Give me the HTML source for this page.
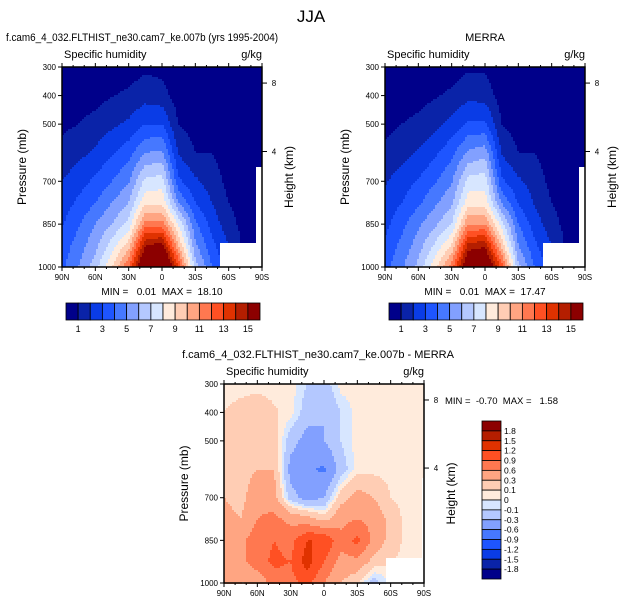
<!DOCTYPE html>
<html><head><meta charset="utf-8">
<style>
body{margin:0;background:#fff;}
svg{display:block;font-family:"Liberation Sans",Arial,sans-serif;}
text{white-space:pre;}
</style></head>
<body>
<svg id="fig" width="622" height="606" viewBox="0 0 622 606">
<text x="311" y="22" font-size="17" text-anchor="middle">JJA</text>
</svg>
<script>
// ---------- data ----------
const lats = [90,75,60,45,30,15,0,-15,-30,-45,-60,-75,-90];
const pLevels = [1000,925,850,775,700,600,500,400,300];
const modelQ = [
 [3.8,5.0,6.5,9.0,12.0,17.5,18.5,13.0,6.5,4.0,2.5,0.8,0.5],
 [3.4,4.5,5.7,7.5,9.5,15.0,15.5,10.0,5.2,3.3,2.0,0.7,0.4],
 [2.9,3.9,5.0,6.0,7.3,11.5,11.5,7.8,4.2,2.6,1.4,0.6,0.3],
 [2.5,3.2,4.0,5.0,6.0,8.8,8.8,5.0,3.0,2.0,1.0,0.5,0.2],
 [2.0,2.6,3.2,4.0,4.9,7.3,7.5,3.2,2.2,1.5,0.7,0.4,0.2],
 [1.3,1.7,2.2,2.9,3.6,5.0,5.2,1.9,1.0,1.0,0.5,0.2,0.1],
 [0.8,1.0,1.3,1.8,2.2,3.0,3.0,0.95,0.6,0.5,0.3,0.1,0.1],
 [0.4,0.55,0.7,0.95,1.2,1.6,1.4,0.5,0.3,0.2,0.1,0.05,0.05],
 [0.2,0.25,0.3,0.4,0.5,0.8,0.7,0.2,0.1,0.1,0.05,0.05,0.05]
];
const merraQ = [
 [3.6,4.8,6.3,8.6,11.5,17.0,17.5,12.6,6.3,3.9,2.5,0.8,0.5],
 [3.2,4.3,5.5,7.2,9.1,14.4,14.8,9.7,5.0,3.2,2.0,0.7,0.4],
 [2.7,3.7,4.8,5.8,7.0,11.0,11.0,7.5,4.0,2.5,1.4,0.6,0.3],
 [2.3,3.0,3.8,4.8,5.8,8.6,8.6,4.9,2.9,1.9,1.0,0.5,0.2],
 [1.9,2.5,3.1,3.9,4.9,7.4,7.6,3.2,2.2,1.5,0.7,0.4,0.2],
 [1.2,1.6,2.1,2.8,3.7,5.2,5.6,1.9,1.0,1.0,0.5,0.2,0.1],
 [0.75,1.0,1.25,1.7,2.3,3.2,3.2,1.0,0.6,0.5,0.3,0.1,0.1],
 [0.4,0.5,0.65,0.9,1.2,1.7,1.6,0.5,0.3,0.2,0.1,0.05,0.05],
 [0.2,0.25,0.3,0.4,0.5,0.85,0.85,0.2,0.1,0.1,0.05,0.05,0.05]
];
const diffQ = [
 [0.4,0.3,0.3,0.8,0.8,1.0,0.6,0.3,0.1,-0.2,0.05,0.05,0.05],
 [0.5,0.5,0.8,0.95,0.9,1.35,0.9,0.5,0.5,0.2,0.1,0.05,0.05],
 [0.6,0.5,0.8,0.9,0.8,1.2,1.2,0.7,1.0,0.5,0.2,0.05,0.05],
 [0.4,0.3,0.6,0.7,0.5,0.4,0.2,0.5,0.6,0.5,0.2,0.05,0.05],
 [0.3,0.2,0.5,0.4,-0.2,-0.4,-0.3,0.2,0.4,0.3,0.1,0.05,0.05],
 [0.3,0.2,0.3,0.3,-0.4,-0.55,-0.65,-0.2,0.05,0.05,0.05,0.05,0.05],
 [0.2,0.15,0.2,0.2,-0.2,-0.4,-0.3,-0.1,0.05,0.05,0.05,0.05,0.05],
 [0.1,0.15,0.2,0.12,0.05,-0.2,-0.3,-0.1,0.05,0.05,0.05,0.05,0.05],
 [0.05,0.05,0.05,0.05,0.05,-0.1,-0.2,0.05,0.05,0.05,0.05,0.05,0.05]
];
const qLevels = [1,2,3,4,5,6,7,8,9,10,11,12,13,14,15];
const qLabels = ["1","3","5","7","9","11","13","15"];
const dLevels = [-1.8,-1.5,-1.2,-0.9,-0.6,-0.3,-0.1,0,0.1,0.3,0.6,0.9,1.2,1.5,1.8];
const dLabels = ["1.8","1.5","1.2","0.9","0.6","0.3","0.1","0","-0.1","-0.3","-0.6","-0.9","-1.2","-1.5","-1.8"];
const palette = ['#00008a','#0a23a8','#0a3ce6','#1e55ff','#4678ff','#82a0ff','#b4c8ff','#d7e6ff','#ffebdc','#ffcdb4','#ffa582','#ff7850','#ff5023','#e03200','#b41e00','#8c0000'];
const latTicks = ["90N","60N","30N","0","30S","60S","90S"];
const pTicks = [300,400,500,700,850,1000];
const hTicks = [8,4];

// ---------- helpers ----------
const NS="http://www.w3.org/2000/svg";
const svg=document.getElementById('fig');
function mk(tag,attrs,parent){const e=document.createElementNS(NS,tag);for(const k in attrs)e.setAttribute(k,attrs[k]);(parent||svg).appendChild(e);return e;}
function txt(x,y,s,size,anchor,parent){const t=mk('text',{x:x,y:y,'font-size':size,'text-anchor':anchor||'middle'},parent);t.textContent=s;return t;}
function interp(grid,lat,p){
  let i=0;while(i<lats.length-2&&lat<lats[i+1])i++;
  let fx=(lats[i]-lat)/(lats[i]-lats[i+1]);
  let j=0;while(j<pLevels.length-2&&p<pLevels[j+1])j++;
  let fy=(pLevels[j]-p)/(pLevels[j]-pLevels[j+1]);
  fx=Math.max(0,Math.min(1,fx));fy=Math.max(0,Math.min(1,fy));
  const a=grid[j][i],b=grid[j][i+1],c=grid[j+1][i],d=grid[j+1][i+1];
  return (a*(1-fx)+b*fx)*(1-fy)+(c*(1-fx)+d*fx)*fy;
}
function levelIndex(v,levels){let k=0;while(k<levels.length&&v>=levels[k])k++;return k;}

function panel(name,x0,y0,W,H,grid,levels,mask){
  const g=mk('g',{});
  
  
  const xS=lat=>x0+(90-lat)/180*W;
  const yS=p=>y0+(p-300)/700*H;
  const step=2;
  for(let py=0;py<H;py+=step){
    const p=300+(py+step/2)/H*700;
    let runStart=0,runCol=null;
    for(let px=0;px<=W;px+=step){
      let col=null;
      if(px<W){
        const lat=90-(px+step/2)/W*180;
        const v=interp(grid,lat,p);
        col=palette[levelIndex(v,levels)];
        if(mask(lat,p))col='#ffffff';
      }
      if(col!==runCol){
        if(runCol){const r=mk('rect',{x:x0+runStart,y:y0+py,width:px-runStart,height:step,fill:runCol},g);
          
          }
        runStart=px;runCol=col;
      }
    }
  }
  const fr=mk('rect',{x:x0,y:y0,width:W,height:H,fill:'none',stroke:'#000','stroke-width':1.5},g);
  
  
  latTicks.forEach((s,k)=>{
    const lat=90-k*30,x=xS(lat);
    mk('line',{x1:x,y1:y0+H,x2:x,y2:y0+H+4,stroke:'#000'},g);
    mk('line',{x1:x,y1:y0,x2:x,y2:y0-4,stroke:'#000'},g);
    const t=txt(x,y0+H+13,s,8,'middle',g);
    
    
  });
  for(let lat=80;lat>-90;lat-=10){if(lat%30){const x=xS(lat);
    mk('line',{x1:x,y1:y0+H,x2:x,y2:y0+H+2,stroke:'#000'},g);
    mk('line',{x1:x,y1:y0,x2:x,y2:y0-2,stroke:'#000'},g);}}
  pTicks.forEach(p=>{
    const y=yS(p);
    mk('line',{x1:x0-4,y1:y,x2:x0,y2:y,stroke:'#000'},g);
    const t=txt(x0-6,y+3,String(p),8,'end',g);
    
    
  });
  hTicks.forEach(h=>{
    const p=1000*Math.exp(-h/7.9);const y=yS(p)-2;
    mk('line',{x1:x0+W,y1:y,x2:x0+W+5,y2:y,stroke:'#000'},g);
    const t=txt(x0+W+12,y+3,String(h),8,'middle',g);
    
    
  });
  const a=txt(0,0,'Pressure (mb)',12,'middle',g);
  a.setAttribute('transform',`translate(${x0-36},${y0+H/2}) rotate(-90)`);
  
  
  const b=txt(0,0,'Height (km)',12,'middle',g);
  b.setAttribute('transform',`translate(${x0+W+31},${y0+H/2+10}) rotate(-90)`);
  
  
  const c=txt(x0+2,y0-9,'Specific humidity',11,'start',g);
  
  
  const d=txt(x0+W,y0-9,'g/kg',11,'end',g);
  
  
}
const topMask=(lat,p)=>(lat<-53&&lat>-85&&p>915)||(lat<-85&&p>650);
const botMask=(lat,p)=>(lat<-55&&lat>-88&&p>912)||(lat<-88&&p>630);

panel('model-panel',62,67,200,200,modelQ,qLevels,topMask);
panel('merra-panel',385,67,200,200,merraQ,qLevels,topMask);
panel('difference-panel',224,384,200,199,diffQ,dLevels,botMask);

function hbar(name,x0,y0,W,H){
  const g=mk('g',{});
  
  
  const bw=W/16;
  palette.forEach((c,k)=>{
    const r=mk('rect',{x:x0+k*bw,y:y0,width:bw,height:H,fill:c,stroke:'#000','stroke-width':0.8},g);
    
    
  });
  qLabels.forEach((s,k)=>{
    const t=txt(x0+(1+2*k)*bw,y0+H+12,s,9,'middle',g);
    
    
  });
}
hbar('model-colorbar',66,303,194,17);
hbar('merra-colorbar',389,303,194,17);

(function(){
  const g=mk('g',{});
  
  
  const x0=482,y0=421,W=19,H=158,bh=H/16;
  palette.slice().reverse().forEach((c,k)=>{
    const r=mk('rect',{x:x0,y:y0+k*bh,width:W,height:bh,fill:c,stroke:'#000','stroke-width':0.8},g);
    
    
  });
  dLabels.forEach((s,k)=>{
    const t=txt(x0+W+3,y0+(k+1)*bh+3,s,8.5,'start',g);
    
    
  });
})();

function label(x,y,s,size,anchor,name,len){const t=txt(x,y,s,size,anchor);if(len){t.setAttribute('textLength',len);t.setAttribute('lengthAdjust','spacingAndGlyphs');}}
label(142,41,'f.cam6_4_032.FLTHIST_ne30.cam7_ke.007b (yrs 1995-2004)',11,'middle','model-title',272);
label(485,41,'MERRA',11,'middle','merra-title');
label(162,295,'MIN =   0.01  MAX =  18.10',10,'middle','model-minmax');
label(485,295,'MIN =   0.01  MAX =  17.47',10,'middle','merra-minmax');
label(318,358,'f.cam6_4_032.FLTHIST_ne30.cam7_ke.007b - MERRA',11,'middle','difference-title');
label(445,404,'MIN =  -0.70  MAX =   1.58',9.5,'start','difference-minmax');
</script>
</body></html>
